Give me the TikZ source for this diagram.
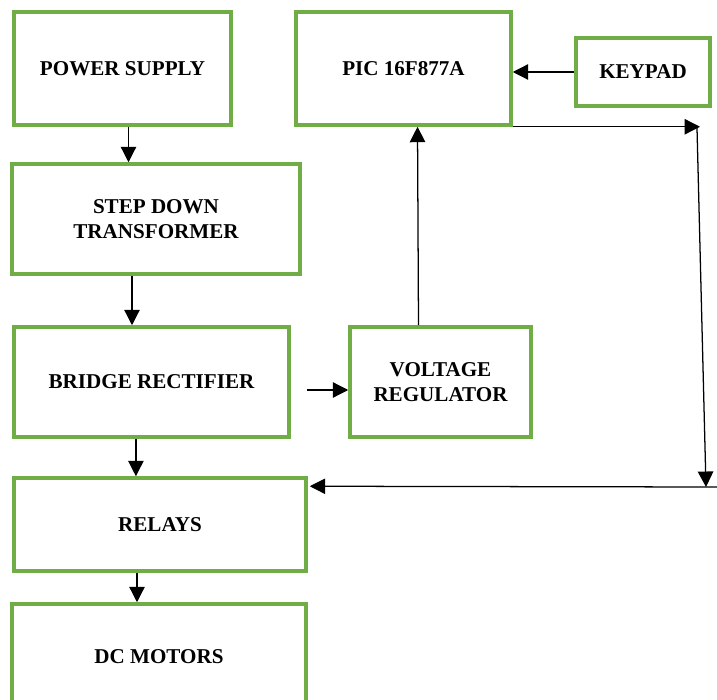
\documentclass[tikz,border=0pt]{standalone}
\usepackage{fontspec}
\setmainfont{Liberation Serif}
\usetikzlibrary{arrows.meta}
\definecolor{boxgreen}{HTML}{70AD47}
\tikzset{
  blk/.style={draw=boxgreen, line width=2.5pt, rectangle, align=center,
    font=\fontsize{15}{17.8}\selectfont\bfseries},
  link/.style={-{Triangle[length=11pt,width=11pt]}, line width=0.9pt}
}
\begin{document}
\begin{tikzpicture}
\clip (0,0) rectangle (17.925,-17.5);
\node[blk, minimum width=5.425cm, minimum height=2.825cm] (ps) at (3.0625,-1.7125) {POWER SUPPLY};
\node[blk, minimum width=5.375cm, minimum height=2.825cm] (pic) at (10.0875,-1.7125) {PIC 16F877A};
\node[blk, minimum width=3.35cm, minimum height=1.7cm] (key) at (16.075,-1.8) {KEYPAD};
\node[blk, minimum width=7.2cm, minimum height=2.75cm] (sd) at (3.9,-5.475) {STEP DOWN\\TRANSFORMER};
\node[blk, minimum width=6.875cm, minimum height=2.75cm] (br) at (3.7875,-9.55) {BRIDGE RECTIFIER};
\node[blk, minimum width=4.525cm, minimum height=2.75cm] (vr) at (11.0125,-9.55) {VOLTAGE\\REGULATOR};
\node[blk, minimum width=7.3cm, minimum height=2.325cm] (rel) at (4.0,-13.1125) {RELAYS};
\node[blk, minimum width=7.35cm, minimum height=2.65cm] (dc) at (3.975,-16.425) {DC MOTORS};

\coordinate (c1) at (17.5,-3.125);
\coordinate (c2) at (17.425,-3.2);
\coordinate (c3) at (17.65,-12.175);
\coordinate (c4) at (17.925,-12.175);

\draw[link] ([xshift=0.15cm]ps.south) -- ([xshift=0.15cm]ps.south |- sd.north);
\draw[link] ([xshift=-0.6cm]sd.south) -- ([xshift=-0.6cm]sd.south |- br.north);
\draw[link] ([xshift=-0.39cm]br.south) -- ([xshift=-0.39cm]br.south |- rel.north);
\draw[link] ([xshift=-0.575cm]rel.south) -- ([xshift=-0.575cm]rel.south |- dc.north);
\draw[link] ([xshift=0.4cm,yshift=-0.2cm]br.east) -- ([yshift=-0.2cm]vr.west);
\draw[link] ([xshift=-0.55cm]vr.north) -- ([xshift=0.35cm]pic.south);
\draw[link] (key.west) -- (key.west -| pic.east);
\draw[link] (pic.south east) -- (pic.south east -| c1);
\draw[link] (c2) -- (c3);
\draw[link] (c4) -- ([xshift=0.05cm,yshift=-0.25cm]rel.north east);
\end{tikzpicture}
\end{document}
